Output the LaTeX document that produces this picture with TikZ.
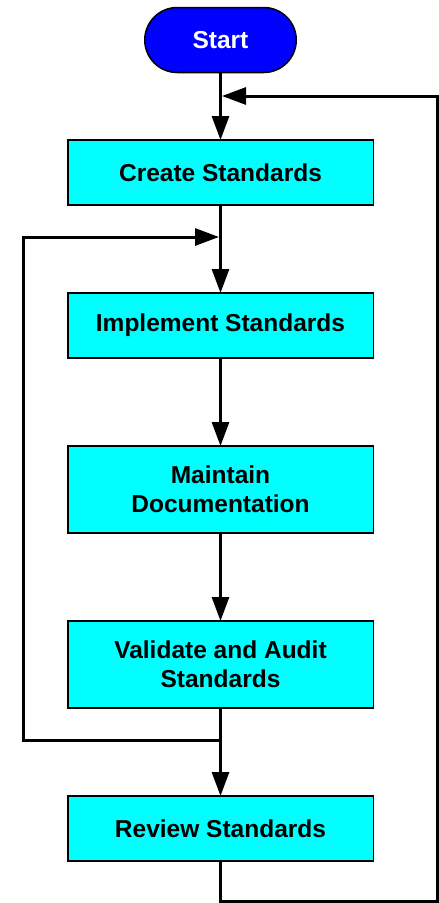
\documentclass[tikz,border=0pt]{standalone}
\usepackage{fontspec}
\setmainfont{Liberation Sans}
\usetikzlibrary{positioning,arrows.meta}
\definecolor{startblue}{RGB}{0,0,255}
\definecolor{boxcyan}{RGB}{0,255,255}
\begin{document}
\begin{tikzpicture}[x=1pt, y=1pt,
   box/.style={rectangle, draw=black, line width=1.5pt, outer sep=0pt, fill=boxcyan, minimum width=305.5pt, minimum height=65pt, align=center, font=\fontsize{24.5}{29}\selectfont\bfseries},
   terminal/.style={rectangle, rounded corners=32.5pt, draw=black, line width=1.5pt, outer sep=0pt, fill=startblue, text=white, minimum width=151.5pt, minimum height=65pt, font=\fontsize{24.5}{29}\selectfont\bfseries},
   flow/.style={line width=3pt, -{Triangle[length=24pt, width=17pt]}},
   link/.style={line width=3pt}]
   \useasboundingbox (0,0) rectangle (439,-903);
   \node[terminal] (start) at (220.5,-40) {Start};
   \node[box, below=67.5pt of start] (create) {Create Standards};
   \node[box, below=88pt of create] (implement) {Implement Standards};
   \node[box, below=88pt of implement, minimum height=87pt] (maintain) {Maintain\\Documentation};
   \node[box, below=88pt of maintain, minimum height=87pt] (validate) {Validate and Audit\\Standards};
   \node[box, below=88pt of validate] (review) {Review Standards};
   % joints of the two feedback loops
   \coordinate (jtop) at (220.5,-96);
   \coordinate (jleft) at (220.5,-237);
   \coordinate (jbot) at (220.5,-740);
   \coordinate (lbot) at (23,-740);
   \coordinate (ltop) at (23,-237);
   \coordinate (rbot) at (437.5,-901.5);
   \draw[flow] (start) -- (create);
   \draw[flow] (create) -- (implement);
   \draw[flow] (implement) -- (maintain);
   \draw[flow] (maintain) -- (validate);
   \draw[flow] (validate) -- (review);
   \draw[flow, shorten >=1.5pt] (jbot) -- (lbot) -- (ltop) -- (jleft);
   \draw[flow, shorten >=1.5pt] (review.south) |- (rbot) |- (jtop);
\end{tikzpicture}
\end{document}
